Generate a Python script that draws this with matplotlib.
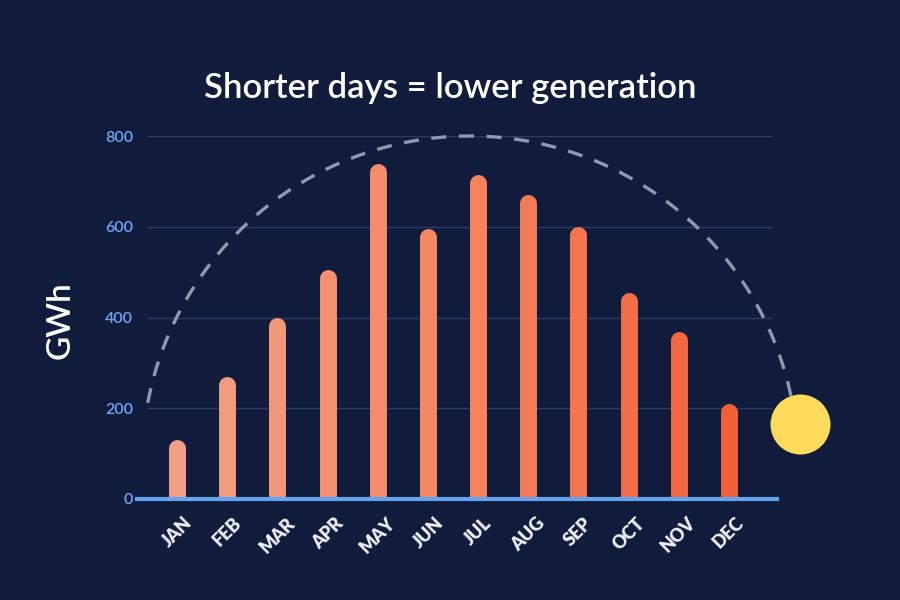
"""Monthly solar generation: shorter days = lower generation."""
import numpy as np
import matplotlib; matplotlib.use("Agg")
import matplotlib.pyplot as plt
from matplotlib.colors import LinearSegmentedColormap

BG, GRID, AXIS, TICK, WHITE = "#111c3d", "#2b3b63", "#63a4f0", "#6ea8f5", "#eef2f9"
ARC, SUN = "#8e99b0", "#fedb5c"
FONT = ["Lato", "DejaVu Sans"]

months = ["JAN", "FEB", "MAR", "APR", "MAY", "JUN", "JUL", "AUG", "SEP", "OCT", "NOV", "DEC"]
gwh = [130, 270, 400, 505, 740, 595, 715, 670, 600, 455, 370, 210]
yticks = [0, 200, 400, 600, 800]

fig = plt.figure(figsize=(9, 6), dpi=100)
fig.patch.set_facecolor(BG)
ax = fig.add_axes([147/900, 101/600, 626/900, 363/600])
ax.set_facecolor(BG)
ax.set_xlim(-0.6, 11.88); ax.set_ylim(0, 800)
for s in ax.spines.values(): s.set_visible(False)

x = np.arange(len(months))
ax.set_yticks(yticks)
ax.set_yticklabels([str(v) for v in yticks], color=TICK, fontsize=11.5, fontweight="semibold", family=FONT)
ax.set_xticks(x)
ax.set_xticklabels(months, rotation=45, color=WHITE, fontsize=13, fontweight="heavy", family=FONT)
ax.tick_params(axis="y", length=0, pad=10)
ax.tick_params(axis="x", length=0, pad=11)
ax.grid(axis="y", color=GRID, lw=1)
ax.set_axisbelow(True)

# bars as thick lines with rounded tops
cmap = LinearSegmentedColormap.from_list("sun", ["#f49f86", "#f5865f", "#f2603a"])
lw = 12.2
px_per_unit = ax.get_window_extent().height / 800
cap = lw/2 * fig.dpi/72 / px_per_unit
for i, v in enumerate(gwh):
    ax.plot([i, i], [-50, v - cap], color=cmap(i/(len(gwh)-1)), lw=lw, solid_capstyle="round", zorder=3)

# baseline
ax.plot([-0.8, 11.96], [0, 0], color=AXIS, lw=3, clip_on=False, zorder=4)

# sun path
t = np.radians(np.linspace(12, 170, 200))
ax.plot(5.84 + 6.54*np.cos(t), 77 + 723*np.sin(t), color=ARC, lw=2.4,
        dashes=(4.5, 3.8), clip_on=False, zorder=2)
ax.scatter([12.42], [165], s=1866, color=SUN, clip_on=False, zorder=5, linewidths=0)

fig.text(0.5, 1 - 98/600, "Shorter days = lower generation", color="white", fontsize=25,
         fontweight="semibold", family=FONT, ha="center", va="baseline")
fig.text(61/900, 1 - 320/600, "GWh", color="white", fontsize=24, fontweight="semibold",
         family=FONT, rotation=90, ha="center", va="center")

plt.savefig("out.png", dpi=100, facecolor=BG)
